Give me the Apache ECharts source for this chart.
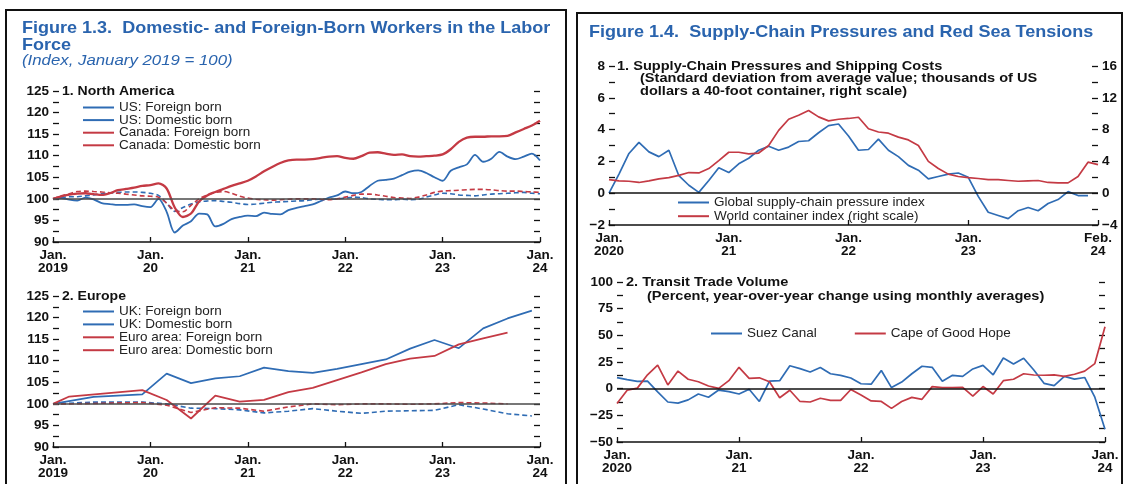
<!DOCTYPE html>
<html>
<head>
<meta charset="utf-8">
<script src="https://cdn.jsdelivr.net/npm/echarts@6/dist/echarts.min.js"></script>
<style>
  html, body { margin: 0; padding: 0; background: #fff; }
  #chart { width: 1126px; height: 484px; }
</style>
</head>
<body>
<div id="chart"></div>
<script>
const FONT = '"Liberation Sans", Arial, sans-serif';
const BLUE = '#2f6cb4';
const RED = '#c43a44';
const TITLE_BLUE = '#2a64ae';

// Figure 1.3, panel 1: North America, monthly Jan 2019 - Jan 2024 (index)
const usForeign = [100,100.2,99.8,99.6,100.3,99.9,99,98.8,98.6,98.6,
  98.7,98.3,98.1,100,97,92.2,93.8,94.8,96.6,96.4,
  93.6,94.2,95.3,95.8,96.1,96,96.8,96.5,96.4,97.4,
  97.9,98.3,98.7,99.5,100.3,100.8,101.7,101.3,101.6,103,
  104.2,104.4,104.7,105.5,106.3,106.6,106,105,104.2,106.5,
  107.3,108,110.2,108.6,109.3,110.9,109.8,109.2,109.8,110.5,108.9];
const usDomestic = [100,100.3,100.5,100.5,100.7,100.9,101.2,101.4,101.5,101.6,
  101.6,101.5,101.3,100.8,99,97.1,98,98.8,99.3,99.5,
  99.6,99.4,99.2,98.9,98.7,98.8,99,99.2,99.3,99.4,
  99.5,99.6,99.8,99.9,99.9,100,100.2,100.4,100.3,100,
  99.9,99.8,99.8,99.9,99.8,99.9,100.4,100.9,101.3,101.2,
  100.9,100.8,100.7,100.9,101.1,101.2,101.3,101.4,101.5,101.3,101.2];
const caForeign = [100,100.6,101,101.2,101.3,101.1,100.9,101.3,102,102.3,
  102.6,103,103.2,103.6,102.4,98,95.8,96.6,99.4,100.8,
  101.6,102.3,103,103.6,104.2,105.2,106.4,107.4,108.3,108.9,
  109.1,109.1,109.2,109.5,109.8,109.9,109.5,109.3,109.9,110.7,
  110.8,110.5,110.2,110.3,109.9,109.8,109.9,110,110.3,111.5,
  113.2,114.2,114.4,114.4,114.5,114.5,114.6,115.4,116.2,117,118.1];
const caDomestic = [100,100.7,101.2,101.7,101.8,101.7,101.6,101.4,101.3,101.1,
  100.9,100.7,100.6,100.4,99,97.3,97,98.5,100,100.9,
  101.5,101.7,101.3,100.6,100.2,99.9,99.8,99.7,99.8,99.9,
  100,100,100,99.9,99.8,100,100.4,100.8,101.1,101.1,
  100.9,100.6,100.3,100.2,100.1,100.4,100.9,101.5,101.8,101.9,
  102,102.1,102.2,102.2,102.1,101.9,101.8,101.8,101.7,101.6,101.5];

// Figure 1.3, panel 2: Europe (months since Jan 2019)
const ukMonths = [0,5,11,14,17,20,23,26,29,32,35,38,41,44,47,50,53,56,59];
const ukForeign = [100,101.6,102.2,107,104.8,105.9,106.4,108.4,107.6,107.2,108.1,109.2,110.3,112.8,114.8,112.9,117.5,119.8,121.6];
const ukDomestic = [100,100.4,100.4,100,99,98.9,98.6,97.9,98.3,98.9,98.3,97.8,98.3,98.4,98.5,99.8,98.8,97.7,97.2];
const euroMonths = [0,2,11,14,17,20,23,26,29,32,35,38,41,44,47,50,53,56];
const euroForeign = [100,101.7,103.2,100.9,96.6,101.9,100.5,100.9,102.7,103.7,105.5,107.3,109.2,110.5,111.1,113.8,115.2,116.5];
const euroDomestic = [100,100,100.3,99.7,98,99.1,99,98.3,99.3,100,99.8,100,100,99.9,100,100.3,100.2,100];

const laborTicks = ['Jan.\n2019','Jan.\n20','Jan.\n21','Jan.\n22','Jan.\n23','Jan.\n24'];

// Figure 1.4, panel 1: monthly from Jan 2020
const gscpi = [0,1.2,2.5,3.2,2.6,2.3,2.7,1.1,0.5,0.05,
  0.8,1.6,1.3,1.85,2.2,2.7,2.95,2.7,2.9,3.25,
  3.3,3.8,4.25,4.35,3.6,2.7,2.75,3.4,2.7,2.3,
  1.75,1.45,0.9,1.05,1.2,1.27,1,-0.2,-1.2,-1.4,
  -1.6,-1.1,-0.9,-1.1,-0.65,-0.4,0.1,-0.15,-0.15];
const wci = [1.7,1.55,1.5,1.35,1.55,1.8,1.95,2.25,2.6,2.55,
  3.1,4.1,5.15,5.15,4.95,5.05,6,7.9,9.3,9.8,
  10.4,9.6,9.1,9.3,9.4,9.55,8.1,7.7,7.55,7.05,
  6.7,6,4,3.1,2.4,2.1,1.95,1.85,1.7,1.7,
  1.6,1.5,1.55,1.6,1.35,1.3,1.3,2.1,3.9,3.6];
const supplyTickMonths = [0,12,24,36,49];
const supplyTicks = ['Jan.\n2020','Jan.\n21','Jan.\n22','Jan.\n23','Feb.\n24'];

// Figure 1.4, panel 2: monthly Jan 2020 - Jan 2024
const suez = [10.3,8.5,6.8,7,-3,-12.5,-13.5,-10.5,-5,-8,
  -1.3,-2.8,-5,-0.5,-12,7,7.5,21.5,18.8,15.6,
  19.8,14,12.5,10,4.6,4.2,17,1,6.2,14,
  21,20,7,12.5,11.5,18.5,21.8,13,28.8,23.2,
  28.5,17.5,5,2.8,11.5,9,10.5,-8,-38];
const cape = [-14,-1.5,0.5,13,22,3.5,16.5,8.8,6.5,2.5,
  0.3,7.5,20,9.7,10.2,6.5,-8.5,-1.5,-12,-12.5,
  -9,-11,-11,-0.8,-6,-11.5,-12,-18.5,-12,-8.2,
  -10,1.9,0.9,0.9,1.3,-7,2,-5,7.5,8.8,
  14,12.8,12.6,13,11.5,13.5,16.5,23.5,58];
const transitTicks = ['Jan.\n2020','Jan.\n21','Jan.\n22','Jan.\n23','Jan.\n24'];

const monthly = arr => arr.map((v, i) => [i, v]);
const zip = (xs, ys) => ys.map((v, i) => [xs[i], v]);
const minus = v => String(v).replace('-', '\u2212');

const labelStyle = { color: '#111', fontSize: 13.5, fontWeight: 'bold', fontFamily: FONT };
const tickStyle = { color: '#111', width: 1.3 };

function xAxis(grid, max, labels, custom) {
  const ax = {
    gridIndex: grid, type: 'value', min: 0, max: max, interval: 12,
    axisLine: { show: true, onZero: false, lineStyle: { color: '#111', width: 1.5 } },
    axisTick: { show: true, inside: true, length: 5, lineStyle: tickStyle },
    splitLine: { show: false },
    axisLabel: Object.assign({}, labelStyle, {
      margin: 7, lineHeight: 13, showMinLabel: true, showMaxLabel: true,
      formatter: v => custom ? labels[custom.indexOf(v)] : labels[v / 12]
    })
  };
  if (custom) {
    ax.axisTick.customValues = custom;
    ax.axisLabel.customValues = custom;
  }
  return ax;
}

function yAxis(grid, pos, min, max, interval, step, showLabels) {
  return {
    gridIndex: grid, type: 'value', position: pos, min: min, max: max, interval: interval,
    axisLine: { show: false },
    axisTick: { show: true, inside: true, length: 6, lineStyle: tickStyle },
    splitLine: { show: false },
    axisLabel: Object.assign({}, labelStyle, {
      show: showLabels, margin: 4,
      formatter: v => (Math.abs(v % step) < 1e-9 ? minus(v) : '')
    })
  };
}

function line(name, data, x, y, color, width, dashed, smooth) {
  return {
    name: name, type: 'line', xAxisIndex: x, yAxisIndex: y, data: data,
    symbol: 'none', smooth: smooth || false, animation: false,
    lineStyle: { color: color, width: width, type: dashed ? [5, 3] : 'solid' },
    itemStyle: { color: color }
  };
}

function baseLine(value, color) {
  return {
    silent: true, symbol: 'none', animation: false, label: { show: false },
    lineStyle: { color: color, width: 1.5, type: 'solid' },
    data: [{ yAxis: value }]
  };
}

// text drawn slightly wider than the font, like the source figure
function txt(x, y, text, font, fill, sx) {
  return {
    type: 'text', x: x, y: y, scaleX: sx || 1, silent: true,
    style: { text: text, font: font, fill: fill || '#111', verticalAlign: 'middle' }
  };
}

const hidden = 'rgba(0,0,0,0)';
function legend(names, left, top, orient, gap) {
  return {
    data: names.map(n => ({
      name: n,
      lineStyle: { type: 'solid' },
      itemStyle: { color: hidden, borderColor: hidden, borderWidth: 0 }
    })),
    left: left, top: top, orient: orient, itemWidth: 31, itemHeight: 10,
    itemGap: gap, padding: 0, selectedMode: false,
    textStyle: { fontSize: 13.5, fontFamily: FONT, color: '#222', lineHeight: 12 }
  };
}

const s1 = line('US: Foreign born', monthly(usForeign), 0, 0, BLUE, 1.8, false, 0.3);
s1.markLine = baseLine(100, '#4a4a4a');
const s5 = line('UK: Foreign born', zip(ukMonths, ukForeign), 1, 2, BLUE, 1.7);
s5.markLine = baseLine(100, '#4a4a4a');
const s9 = line('Global supply-chain pressure index', monthly(gscpi), 2, 4, BLUE, 1.7);
s9.markLine = baseLine(0, '#111');
const s11 = line('Suez Canal', monthly(suez), 3, 6, BLUE, 1.7);
s11.markLine = baseLine(0, '#111');

const option = {
  animation: false,
  grid: [
    { left: 53, top: 91, width: 487, height: 151, outerBoundsMode: 'none' },
    { left: 53, top: 296, width: 487, height: 151, outerBoundsMode: 'none' },
    { left: 609, top: 66, width: 489, height: 159, outerBoundsMode: 'none' },
    { left: 617, top: 282, width: 488, height: 160, outerBoundsMode: 'none' }
  ],
  xAxis: [
    xAxis(0, 60, laborTicks),
    xAxis(1, 60, laborTicks),
    xAxis(2, 49, supplyTicks, supplyTickMonths),
    xAxis(3, 48, transitTicks)
  ],
  yAxis: [
    yAxis(0, 'left', 90, 125, 2.5, 5, true),
    yAxis(0, 'right', 90, 125, 2.5, 5, false),
    yAxis(1, 'left', 90, 125, 2.5, 5, true),
    yAxis(1, 'right', 90, 125, 2.5, 5, false),
    yAxis(2, 'left', -2, 8, 1, 2, true),
    yAxis(2, 'right', -4, 16, 2, 4, true),
    yAxis(3, 'left', -50, 100, 12.5, 25, true),
    yAxis(3, 'right', -50, 100, 12.5, 25, false)
  ],
  legend: [
    legend(['US: Foreign born', 'US: Domestic born', 'Canada: Foreign born', 'Canada: Domestic born'], 82, 100.5, 'vertical', -1.4),
    legend(['UK: Foreign born', 'UK: Domestic born', 'Euro area: Foreign born', 'Euro area: Domestic born'], 82, 304.5, 'vertical', -1.1),
    legend(['Global supply-chain pressure index', 'World container index (right scale)'], 677, 195.5, 'vertical', -0.3),
    legend(['Suez Canal', 'Cape of Good Hope'], 710, 326.5, 'horizontal', 37)
  ],
  series: [
    s1,
    line('US: Domestic born', monthly(usDomestic), 0, 0, BLUE, 1.6, true, 0.3),
    line('Canada: Foreign born', monthly(caForeign), 0, 0, RED, 2.3, false, 0.3),
    line('Canada: Domestic born', monthly(caDomestic), 0, 0, RED, 1.6, true, 0.3),
    s5,
    line('UK: Domestic born', zip(ukMonths, ukDomestic), 1, 2, BLUE, 1.6, true),
    line('Euro area: Foreign born', zip(euroMonths, euroForeign), 1, 2, RED, 1.8),
    line('Euro area: Domestic born', zip(euroMonths, euroDomestic), 1, 2, RED, 1.6, true),
    s9,
    line('World container index (right scale)', monthly(wci), 2, 5, RED, 1.7),
    s11,
    line('Cape of Good Hope', monthly(cape), 3, 6, RED, 1.7)
  ],
  graphic: [
    { type: 'rect', silent: true, shape: { x: 6, y: 10, width: 560, height: 500 }, style: { fill: 'none', stroke: '#111', lineWidth: 2 } },
    { type: 'rect', silent: true, shape: { x: 577, y: 13, width: 545, height: 500 }, style: { fill: 'none', stroke: '#111', lineWidth: 2 } },
    txt(22, 28, 'Figure 1.3.  Domestic- and Foreign-Born Workers in the Labor', 'bold 17px ' + FONT, TITLE_BLUE, 1.06),
    txt(22, 45, 'Force', 'bold 17px ' + FONT, TITLE_BLUE, 1.06),
    txt(22, 61, '(Index, January 2019 = 100)', 'italic 14px ' + FONT, TITLE_BLUE, 1.2),
    txt(62, 91, '1. North America', 'bold 13px ' + FONT, '#111', 1.08),
    txt(62, 296, '2. Europe', 'bold 13px ' + FONT, '#111', 1.08),
    txt(589, 32, 'Figure 1.4.  Supply-Chain Pressures and Red Sea Tensions', 'bold 17px ' + FONT, TITLE_BLUE, 1.06),
    txt(617, 66, '1. Supply-Chain Pressures and Shipping Costs', 'bold 13px ' + FONT, '#111', 1.12),
    txt(640, 78.5, '(Standard deviation from average value; thousands of US', 'bold 13px ' + FONT, '#111', 1.12),
    txt(640, 91, 'dollars a 40-foot container, right scale)', 'bold 13px ' + FONT, '#111', 1.12),
    txt(626, 282, '2. Transit Trade Volume', 'bold 13px ' + FONT, '#111', 1.12),
    txt(647, 296, '(Percent, year-over-year change using monthly averages)', 'bold 13px ' + FONT, '#111', 1.12)
  ]
};

const chart = echarts.init(document.getElementById('chart'), null, { renderer: 'canvas' });
chart.setOption(option);
</script>
</body>
</html>
